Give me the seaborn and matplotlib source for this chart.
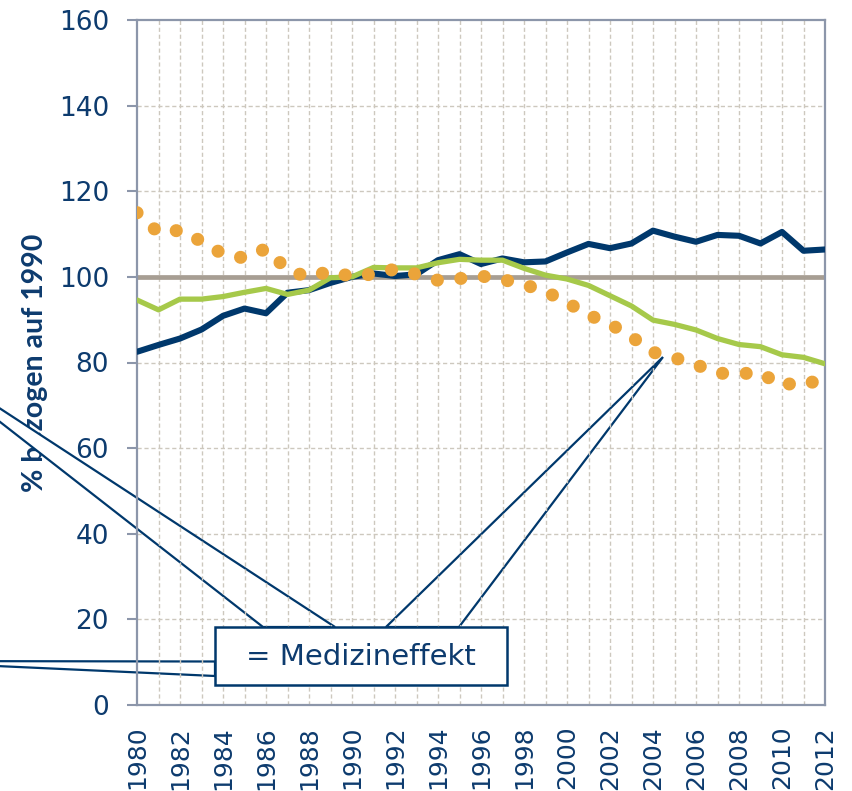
import matplotlib
matplotlib.use("Agg")
import matplotlib.pyplot as plt
import seaborn as sns
from matplotlib.patches import Polygon, Rectangle
from matplotlib.transforms import Affine2D

# Daten (Index 1990 = 100)
years = list(range(1980, 2013))
navy_vals = [82.5, 84.1, 85.6, 87.7, 90.9, 92.6, 91.5, 96.3, 96.9, 98.6, 100.0,
             100.8, 100.2, 100.6, 103.9, 105.3, 103.0, 104.3, 103.4, 103.6, 105.7,
             107.7, 106.7, 107.8, 110.8, 109.4, 108.2, 109.8, 109.6, 107.8, 110.5, 106.1, 106.4]
green_vals = [94.6, 92.3, 94.8, 94.8, 95.4, 96.4, 97.3, 95.9, 96.9, 99.8, 100.0,
              102.2, 102.1, 102.1, 103.3, 104.1, 103.9, 103.9, 102.0, 100.4, 99.5,
              98.0, 95.6, 93.2, 89.9, 88.9, 87.6, 85.6, 84.2, 83.7, 81.8, 81.2, 79.7]
orange_vals = [115.0, 110.3, 110.9, 108.3, 105.3, 104.4, 106.6, 101.6, 99.9, 101.4, 100.0,
               100.7, 101.8, 100.6, 99.2, 99.6, 100.2, 99.4, 98.2, 96.6, 94.0,
               91.1, 89.0, 86.0, 82.4, 81.1, 79.5, 77.5, 77.4, 77.6, 74.5, 75.9, 74.7]
basis_vals = [100] * len(years)

yticks = [0, 20, 40, 60, 80, 100, 120, 140, 160]
xticks = list(range(1980, 2013, 2))
callout_text = "= Medizineffekt"
ylabel = "% bezogen auf 1990"

navy = "#00386c"
green = "#a6c94a"
orange = "#eba43a"
gray = "#a79e93"
textc = "#0d3b6e"
axisc = "#8c96aa"
gridc = "#cdc8be"

sns.set_theme(style="white")
plt.rcParams["font.family"] = ["DejaVu Sans"]

fig = plt.figure(figsize=(8.52, 7.91), dpi=100)
ax = fig.add_axes([137 / 852, 1 - 705 / 791, 688 / 852, 685 / 791])
ax.set_axisbelow(True)

# Gitter: horizontal unter den Callouts, vertikal darueber
for v in yticks[1:-1]:
    ax.axhline(v, color=gridc, lw=1, ls=(0, (3, 2)), zorder=0.6)
for yr in years[1:-1]:
    ax.axvline(yr, color=gridc, lw=1, ls=(0, (3, 2)), zorder=1.2)

sns.lineplot(x=years, y=basis_vals, ax=ax, color=gray, linewidth=3.4, zorder=2)
sns.lineplot(x=years, y=navy_vals, ax=ax, color=navy, linewidth=4.4,
             solid_joinstyle="round", zorder=3)
sns.lineplot(x=years, y=green_vals, ax=ax, color=green, linewidth=3.8,
             solid_joinstyle="round", zorder=3.1)
sns.lineplot(x=years, y=orange_vals, ax=ax, color=orange, linewidth=9.4,
             linestyle=(0, (0.01, 1.8)), dash_capstyle="round", zorder=3.2)

ax.set_xlim(1980, 2012)
ax.set_ylim(0, 160)
ax.set_yticks(yticks)
ax.set_xticks(xticks)
ax.tick_params(axis="y", direction="out", length=7.2, width=1.5, color=axisc,
               labelsize=19, labelcolor=textc, pad=13, left=True)
ax.tick_params(axis="x", length=0, labelsize=18, labelcolor=textc, pad=15,
               labelrotation=90)
for s in ax.spines.values():
    s.set_color(axisc)
    s.set_linewidth(1.6)
    s.set_zorder(2.5)

ax.set_ylabel(ylabel, fontsize=20.5, fontweight="bold", color=textc, family=["Lato", "DejaVu Sans"])
ax.yaxis.set_label_coords(-0.13, 0.5)

# Callouts in Pixelkoordinaten der Abbildung (y von oben)
px = Affine2D().scale(1 / 852, -1 / 791).translate(0, 1) + fig.transFigure
wedges = [
    [(-105, 340), (335, 627), (263, 627)],
    [(663, 357), (459, 627), (386, 627)],
    [(-113, 661), (215, 661.5), (215, 676)],
]
for pts in wedges:
    ax.add_patch(Polygon(pts, closed=True, transform=px, facecolor="white",
                         edgecolor=navy, linewidth=1.6, clip_on=False, zorder=1))
ax.add_patch(Rectangle((215, 627), 292, 58, transform=px, facecolor="white",
                       edgecolor=navy, linewidth=1.8, clip_on=False, zorder=5))
ax.text(361, 657, callout_text, transform=px, ha="center", va="center",
        fontsize=21, color=textc, zorder=6)

fig.savefig("out.png", dpi=100)
